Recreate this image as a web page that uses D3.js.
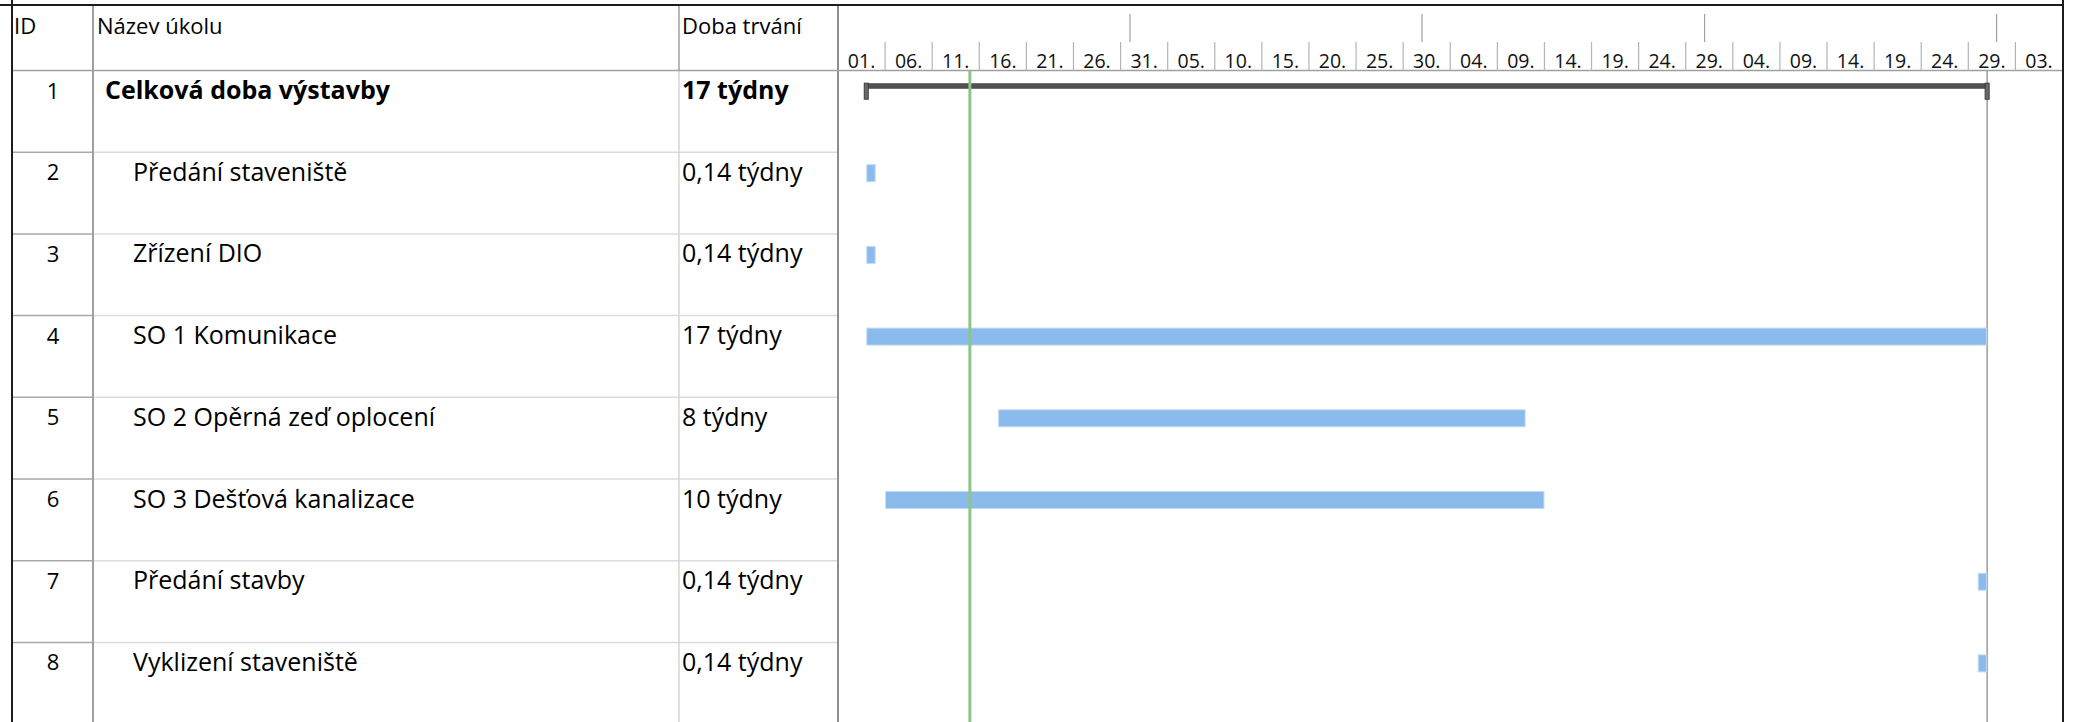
<!DOCTYPE html>
<html lang="cs">
<head>
<meta charset="utf-8">
<title>Harmonogram výstavby</title>
<script src="https://cdn.jsdelivr.net/npm/d3@7"></script>
<style>
  html, body { margin: 0; padding: 0; background: #fff; }
  svg { display: block; font-family: "Open Sans", "Noto Sans", sans-serif; }
</style>
</head>
<body>
<svg id="gantt" width="2075" height="722"></svg>
<script>
// Task table
const taskIds = [1, 2, 3, 4, 5, 6, 7, 8];
const taskNames = [
  "Celková doba výstavby",
  "Předání staveniště",
  "Zřízení DIO",
  "SO 1 Komunikace",
  "SO 2 Opěrná zeď oplocení",
  "SO 3 Dešťová kanalizace",
  "Předání stavby",
  "Vyklizení staveniště"
];
const taskDurations = [
  "17 týdny", "0,14 týdny", "0,14 týdny", "17 týdny",
  "8 týdny", "10 týdny", "0,14 týdny", "0,14 týdny"
];
const taskStarts = [
  "2024-07-04", "2024-07-04", "2024-07-04", "2024-07-04",
  "2024-07-18", "2024-07-06", "2024-10-30", "2024-10-30"
];
const taskEnds = [
  "2024-10-31", "2024-07-05", "2024-07-05", "2024-10-31",
  "2024-09-12", "2024-09-14", "2024-10-31", "2024-10-31"
];
const taskIsSummary = [true, false, false, false, false, false, false, false];

// Column headers and timescale
const columnHeaders = ["ID", "Název úkolu", "Doba trvání"];
const timescaleStart = "2024-07-01";
const timescaleEnd = "2024-11-08";
const timescaleStepDays = 5;
const statusDate = "2024-07-15";
const projectFinish = "2024-10-31";

const parse = d3.utcParse("%Y-%m-%d");
const tasks = taskIds.map((id, i) => ({
  id,
  name: taskNames[i],
  duration: taskDurations[i],
  start: parse(taskStarts[i]),
  end: parse(taskEnds[i]),
  summary: taskIsSummary[i]
}));

const W = 2075, H = 722;
const frameLeft = 12, frameTop = 5, frameRight = 2063;
const headerBottom = 70.5;
const colId = 93, colName = 679, colChart = 838;
const rowHeight = 81.7;

const svg = d3.select("#gantt");

const x = d3.scaleUtc()
  .domain([parse(timescaleStart), parse(timescaleEnd)])
  .range([colChart, 2062.5]);

const y = d3.scaleBand()
  .domain(taskIds)
  .range([headerBottom, headerBottom + rowHeight * taskIds.length])
  .padding(0);

// --- grid of the task table ---
const grid = svg.append("g");
// row separators (between rows)
taskIds.slice(1).forEach(id => {
  const yy = y(id);
  grid.append("line").attr("x1", frameLeft).attr("x2", colId)
    .attr("y1", yy).attr("y2", yy).attr("stroke", "#a9a9a9").attr("stroke-width", 1.5);
  grid.append("line").attr("x1", colId).attr("x2", colChart)
    .attr("y1", yy).attr("y2", yy).attr("stroke", "#dcdcdc").attr("stroke-width", 1.5);
});
// name | duration separator
grid.append("line").attr("x1", colName).attr("x2", colName)
  .attr("y1", frameTop).attr("y2", headerBottom).attr("stroke", "#a0a0a0").attr("stroke-width", 1.5);
grid.append("line").attr("x1", colName).attr("x2", colName)
  .attr("y1", headerBottom).attr("y2", H).attr("stroke", "#d6d6d6").attr("stroke-width", 1.5);
// id | name separator
grid.append("line").attr("x1", colId).attr("x2", colId)
  .attr("y1", frameTop).attr("y2", H).attr("stroke", "#a0a0a0").attr("stroke-width", 2);
// table | chart separator
grid.append("line").attr("x1", colChart).attr("x2", colChart)
  .attr("y1", frameTop).attr("y2", H).attr("stroke", "#8e8e8e").attr("stroke-width", 2);
// header bottom
grid.append("line").attr("x1", frameLeft).attr("x2", frameRight)
  .attr("y1", headerBottom).attr("y2", headerBottom).attr("stroke", "#a0a0a0").attr("stroke-width", 1.5);

// --- header texts ---
const headerX = [14, 97, 682];
svg.append("g").selectAll("text").data(columnHeaders).join("text")
  .attr("x", (d, i) => headerX[i])
  .attr("y", 34)
  .attr("font-size", 22)
  .attr("fill", "#000")
  .text(d => d);

// --- timescale: months (top tier) and 5-day units (bottom tier) ---
const months = d3.utcMonth.range(d3.utcMonth.offset(parse(timescaleStart), 1), parse(timescaleEnd));
svg.append("g").selectAll("line").data(months).join("line")
  .attr("x1", d => x(d)).attr("x2", d => x(d))
  .attr("y1", 14).attr("y2", 42)
  .attr("stroke", "#a0a0a0").attr("stroke-width", 1.2);

const units = d3.utcDay.range(parse(timescaleStart), parse(timescaleEnd), timescaleStepDays);
const unitFmt = d3.utcFormat("%d.");
const tier = svg.append("g");
tier.selectAll("line").data(units.slice(1)).join("line")
  .attr("x1", d => x(d)).attr("x2", d => x(d))
  .attr("y1", 42).attr("y2", headerBottom)
  .attr("stroke", "#b4b4b4").attr("stroke-width", 1.2);
tier.selectAll("text").data(units).join("text")
  .attr("x", d => (x(d) + x(d3.utcDay.offset(d, timescaleStepDays))) / 2)
  .attr("y", 67.5)
  .attr("text-anchor", "middle")
  .attr("font-size", 19.5)
  .attr("fill", "#111")
  .text(d => unitFmt(d));

// --- task rows text ---
const rows = svg.append("g").selectAll("g").data(tasks).join("g")
  .attr("transform", d => `translate(0,${y(d.id)})`);
rows.append("text")
  .attr("x", (colId + frameLeft) / 2 + 0.5)
  .attr("y", 28)
  .attr("text-anchor", "middle")
  .attr("font-size", 22)
  .attr("fill", "#000")
  .text(d => d.id);
rows.append("text")
  .attr("x", d => d.summary ? 105 : 133)
  .attr("y", 28.5)
  .attr("font-size", 25)
  .attr("font-weight", d => d.summary ? 700 : 400)
  .attr("fill", "#000")
  .text(d => d.name);
rows.append("text")
  .attr("x", 682)
  .attr("y", 28.5)
  .attr("font-size", 25)
  .attr("font-weight", d => d.summary ? 700 : 400)
  .attr("fill", "#000")
  .text(d => d.duration);

// --- chart marks ---
const marks = svg.append("g");
// project finish line
marks.append("line")
  .attr("x1", x(parse(projectFinish))).attr("x2", x(parse(projectFinish)))
  .attr("y1", headerBottom).attr("y2", H)
  .attr("stroke", "#9c9c9c").attr("stroke-width", 1.5);

// task bars
marks.selectAll("rect.task").data(tasks.filter(d => !d.summary)).join("rect")
  .attr("class", "task")
  .attr("x", d => x(d.start) + 0.5)
  .attr("y", d => y(d.id) + 12.5)
  .attr("width", d => x(d.end) - x(d.start) - 1)
  .attr("height", 17)
  .attr("fill", "#8abbec")
  .attr("stroke", "#c3daf4")
  .attr("stroke-width", 1);

// summary bars with end caps
const summaries = tasks.filter(d => d.summary);
marks.selectAll("rect.summary").data(summaries).join("rect")
  .attr("class", "summary")
  .attr("x", d => x(d.start))
  .attr("y", d => y(d.id) + 12.7)
  .attr("width", d => x(d.end) - x(d.start))
  .attr("height", 5.6)
  .attr("fill", "#525252");
const caps = summaries.flatMap(d => [{ id: d.id, t: d.start }, { id: d.id, t: d.end }]);
marks.selectAll("rect.cap").data(caps).join("rect")
  .attr("class", "cap")
  .attr("x", d => x(d.t) - 2)
  .attr("y", d => y(d.id) + 12.7)
  .attr("width", 4)
  .attr("height", 16)
  .attr("fill", "#6a6a6a")
  .attr("stroke", "#3a3a3a")
  .attr("stroke-width", 1);

// status date line
marks.append("line")
  .attr("x1", x(parse(statusDate))).attr("x2", x(parse(statusDate)))
  .attr("y1", headerBottom + 0.5).attr("y2", H)
  .attr("stroke", "#8ec58b").attr("stroke-width", 3);

// --- outer frame ---
const frame = svg.append("g");
frame.append("line").attr("x1", 0).attr("x2", frameRight + 1)
  .attr("y1", frameTop).attr("y2", frameTop).attr("stroke", "#1c1c1c").attr("stroke-width", 2);
frame.append("line").attr("x1", frameLeft).attr("x2", frameLeft)
  .attr("y1", 0).attr("y2", H).attr("stroke", "#1c1c1c").attr("stroke-width", 2);
frame.append("line").attr("x1", frameRight).attr("x2", frameRight)
  .attr("y1", 0).attr("y2", H).attr("stroke", "#1c1c1c").attr("stroke-width", 2);
</script>
</body>
</html>
